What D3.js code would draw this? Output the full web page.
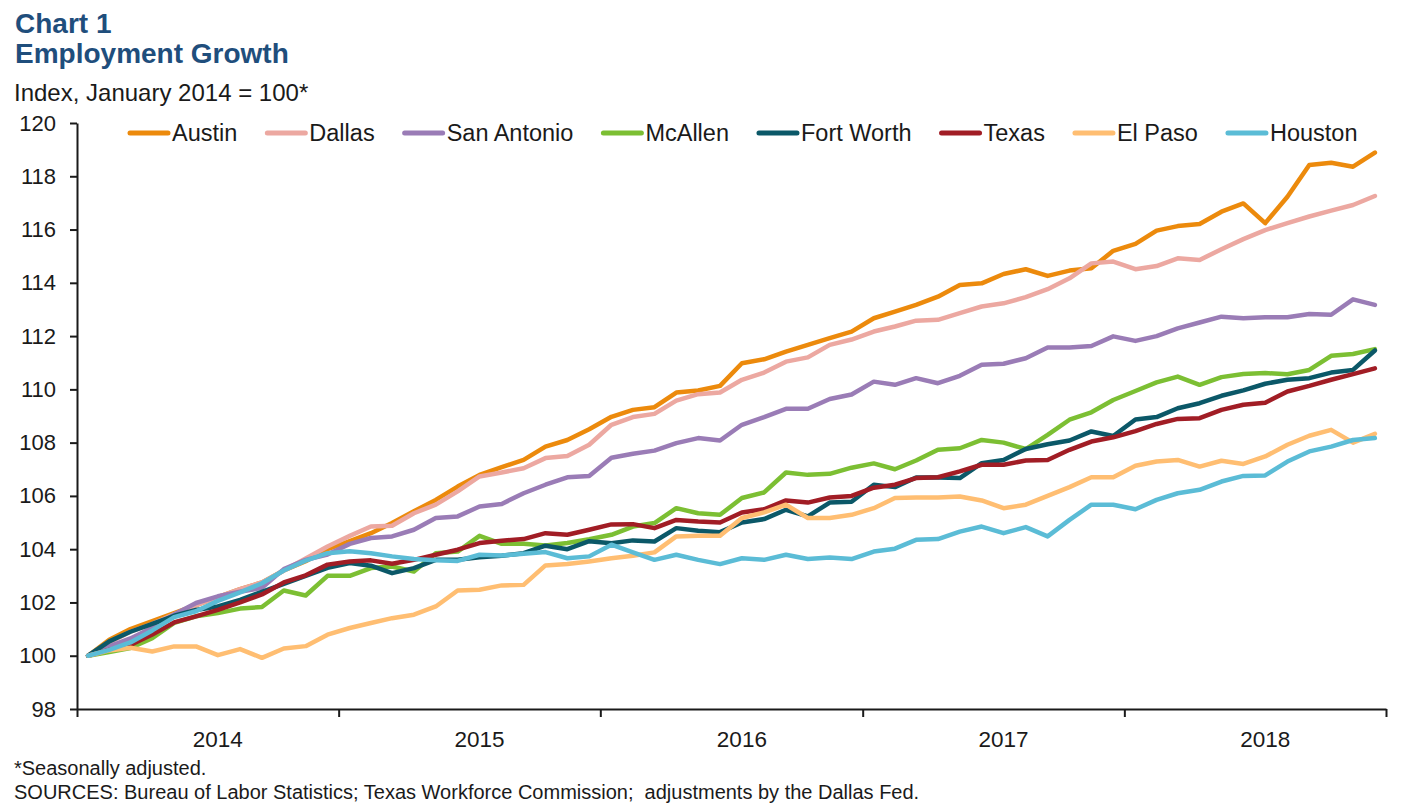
<!DOCTYPE html>
<html>
<head>
<meta charset="utf-8">
<script src="https://cdn.jsdelivr.net/npm/d3@7"></script>
<style>
  body { margin: 0; background: #fff; }
  svg { display: block; font-family: "Liberation Sans", Arial, sans-serif; }
</style>
</head>
<body>
<div id="chart"></div>
<script>
// monthly index values, Jan 2014 - Dec 2018 (Jan 2014 = 100)
const austin = [100, 100.6, 101.0, 101.3, 101.6, 101.9, 102.2, 102.5, 102.75, 103.2, 103.55, 104.0,
  104.3, 104.6, 104.98, 105.42, 105.85, 106.35, 106.79, 107.08, 107.35, 107.85, 108.1, 108.5,
  108.97, 109.23, 109.33, 109.88, 109.96, 110.13, 110.98, 111.13, 111.42, 111.67, 111.92, 112.17,
  112.67, 112.92, 113.17, 113.48, 113.92, 113.98, 114.33, 114.51, 114.26, 114.46, 114.55, 115.2,
  115.46, 115.96, 116.13, 116.21, 116.67, 116.98, 116.24, 117.23, 118.42, 118.51, 118.36, 118.89];
const dallas = [100, 100.5, 100.9, 101.2, 101.55, 101.9, 102.2, 102.5, 102.75, 103.2, 103.65, 104.1,
  104.5, 104.85, 104.88, 105.35, 105.67, 106.17, 106.73, 106.88, 107.04, 107.42, 107.5, 107.92,
  108.67, 108.96, 109.08, 109.58, 109.82, 109.88, 110.36, 110.63, 111.04, 111.2, 111.67, 111.87,
  112.17, 112.36, 112.58, 112.61, 112.86, 113.11, 113.23, 113.46, 113.76, 114.17, 114.73, 114.8,
  114.51, 114.63, 114.92, 114.86, 115.26, 115.64, 115.98, 116.24, 116.49, 116.71, 116.92, 117.26];
const sanAntonio = [100, 100.35, 100.65, 101.05, 101.55, 101.98, 102.23, 102.4, 102.55, 103.25, 103.6, 103.8,
  104.2, 104.42, 104.48, 104.73, 105.17, 105.23, 105.6, 105.7, 106.1, 106.42, 106.7, 106.75,
  107.43, 107.58, 107.7, 107.98, 108.17, 108.08, 108.67, 108.96, 109.27, 109.27, 109.64, 109.81,
  110.29, 110.17, 110.42, 110.23, 110.51, 110.92, 110.96, 111.17, 111.57, 111.57, 111.63, 111.99,
  111.82, 112.0, 112.29, 112.51, 112.73, 112.67, 112.71, 112.71, 112.83, 112.8, 113.38, 113.17];
const mcAllen = [100, 100.14, 100.29, 100.66, 101.23, 101.48, 101.6, 101.77, 101.83, 102.45, 102.26, 103.0,
  103.0, 103.29, 103.35, 103.16, 103.85, 103.91, 104.5, 104.2, 104.2, 104.14, 104.23, 104.37,
  104.54, 104.85, 104.98, 105.54, 105.35, 105.29, 105.92, 106.13, 106.88, 106.79, 106.83, 107.06,
  107.22, 107.0, 107.33, 107.73, 107.79, 108.1, 108.0, 107.76, 108.29, 108.86, 109.14, 109.6,
  109.94, 110.26, 110.48, 110.17, 110.46, 110.58, 110.61, 110.57, 110.73, 111.26, 111.33, 111.51];
const fortWorth = [100, 100.54, 100.9, 101.2, 101.5, 101.72, 101.85, 102.1, 102.4, 102.7, 103.0, 103.3,
  103.48, 103.38, 103.1, 103.29, 103.6, 103.6, 103.7, 103.75, 103.85, 104.13, 104.0, 104.3,
  104.22, 104.33, 104.29, 104.79, 104.69, 104.64, 105.0, 105.13, 105.48, 105.23, 105.75, 105.78,
  106.42, 106.33, 106.69, 106.69, 106.67, 107.23, 107.35, 107.76, 107.94, 108.08, 108.42, 108.25,
  108.87, 108.96, 109.29, 109.48, 109.76, 109.96, 110.21, 110.36, 110.42, 110.63, 110.73, 111.46];
const texas = [100, 100.22, 100.4, 100.8, 101.25, 101.48, 101.72, 102.0, 102.3, 102.75, 103.02, 103.42,
  103.54, 103.58, 103.45, 103.6, 103.79, 103.98, 104.23, 104.32, 104.38, 104.6, 104.54, 104.73,
  104.93, 104.94, 104.79, 105.1, 105.04, 105.0, 105.38, 105.5, 105.83, 105.75, 105.94, 106.0,
  106.31, 106.42, 106.67, 106.7, 106.92, 107.17, 107.17, 107.33, 107.35, 107.73, 108.04, 108.2,
  108.43, 108.7, 108.89, 108.92, 109.23, 109.42, 109.5, 109.92, 110.13, 110.36, 110.57, 110.79];
const elPaso = [100, 100.2, 100.3, 100.16, 100.35, 100.35, 100.02, 100.25, 99.92, 100.27, 100.36, 100.79,
  101.04, 101.23, 101.41, 101.54, 101.85, 102.45, 102.48, 102.64, 102.66, 103.39, 103.44, 103.54,
  103.66, 103.75, 103.88, 104.48, 104.5, 104.5, 105.17, 105.38, 105.67, 105.17, 105.17, 105.29,
  105.54, 105.92, 105.94, 105.94, 105.98, 105.83, 105.54, 105.67, 106.0, 106.33, 106.7, 106.7,
  107.13, 107.29, 107.35, 107.1, 107.32, 107.2, 107.48, 107.92, 108.26, 108.48, 108.0, 108.33];
const houston = [100, 100.22, 100.5, 100.95, 101.45, 101.67, 102.06, 102.38, 102.72, 103.2, 103.57, 103.85,
  103.92, 103.85, 103.73, 103.63, 103.58, 103.56, 103.79, 103.76, 103.83, 103.89, 103.66, 103.73,
  104.17, 103.88, 103.6, 103.79, 103.6, 103.44, 103.66, 103.6, 103.79, 103.63, 103.69, 103.63,
  103.91, 104.02, 104.35, 104.38, 104.66, 104.85, 104.6, 104.83, 104.48, 105.1, 105.67, 105.67,
  105.5, 105.85, 106.1, 106.23, 106.54, 106.75, 106.77, 107.29, 107.67, 107.85, 108.1, 108.17];

const seriesNames = ["Austin", "Dallas", "San Antonio", "McAllen", "Fort Worth", "Texas", "El Paso", "Houston"];
const seriesValues = [austin, dallas, sanAntonio, mcAllen, fortWorth, texas, elPaso, houston];
const seriesColors = ["#ec8a0c", "#eca8a1", "#9a7cb6", "#7cbf33", "#0b5868", "#a11d25", "#ffbe72", "#5bbcd6"];
const yTicks = [98, 100, 102, 104, 106, 108, 110, 112, 114, 116, 118, 120];
const years = [2014, 2015, 2016, 2017, 2018];

const width = 1423, height = 811;
const start = new Date(2014, 0, 1), end = new Date(2019, 0, 1);
const months = d3.timeMonth.range(start, end);

const svg = d3.select("#chart").append("svg")
    .attr("width", width)
    .attr("height", height);

const x = d3.scaleTime().domain([start, end]).range([77, 1386]);
const y = d3.scaleLinear().domain([98, 120]).range([709, 123]);

// point sits in the middle of its month
const midMonth = d => new Date((+d + +d3.timeMonth.offset(d, 1)) / 2);

// titles
svg.append("text").attr("x", 15).attr("y", 33)
    .attr("font-size", 28).attr("font-weight", "bold").attr("fill", "#1f4e7c")
    .text("Chart 1");
svg.append("text").attr("x", 15).attr("y", 63)
    .attr("font-size", 28).attr("font-weight", "bold").attr("fill", "#1f4e7c")
    .text("Employment Growth");
svg.append("text").attr("x", 14).attr("y", 101)
    .attr("font-size", 24).attr("fill", "#1a1a1a")
    .text("Index, January 2014 = 100*");

// y axis
const yAxis = svg.append("g")
    .attr("transform", "translate(77,0)")
    .call(d3.axisLeft(y).tickValues(yTicks).tickSize(7).tickSizeOuter(0).tickPadding(14));
yAxis.selectAll("text").attr("font-size", 22).attr("fill", "#1a1a1a").attr("font-family", null);

// x axis
const xAxis = svg.append("g")
    .attr("transform", "translate(0,709)")
    .call(d3.axisBottom(x).ticks(d3.timeYear.every(1)).tickSize(8).tickSizeOuter(0).tickFormat(""));
svg.append("g")
    .selectAll("text")
    .data(years)
    .join("text")
    .attr("x", d => x(midMonth(new Date(d, 6, 1))))
    .attr("y", 747)
    .attr("text-anchor", "middle")
    .attr("font-size", 22.5)
    .attr("fill", "#1a1a1a")
    .text(d => d);

svg.selectAll(".domain, .tick line").attr("stroke", "#1a1a1a").attr("stroke-width", 2);

// lines
const line = d3.line()
    .x((d, i) => x(midMonth(months[i])))
    .y(d => y(d));

svg.append("g")
    .attr("fill", "none")
    .attr("stroke-width", 4.5)
    .attr("stroke-linejoin", "round")
    .attr("stroke-linecap", "round")
    .selectAll("path")
    .data(seriesValues)
    .join("path")
    .attr("stroke", (d, i) => seriesColors[i])
    .attr("d", line);

// legend
const legend = svg.append("g").attr("font-size", 23.5).attr("fill", "#1a1a1a");
let lx = 128;
seriesNames.forEach((name, i) => {
    legend.append("line")
        .attr("x1", lx + 2).attr("x2", lx + 40)
        .attr("y1", 133).attr("y2", 133)
        .attr("stroke", seriesColors[i])
        .attr("stroke-width", 5)
        .attr("stroke-linecap", "round");
    const t = legend.append("text")
        .attr("x", lx + 44).attr("y", 141)
        .text(name);
    lx += 44 + t.node().getComputedTextLength() + 28;
});

// footnotes
svg.append("text").attr("x", 14).attr("y", 775)
    .attr("font-size", 20).attr("fill", "#1a1a1a")
    .text("*Seasonally adjusted.");
svg.append("text").attr("x", 14).attr("y", 799)
    .attr("font-size", 20).attr("fill", "#1a1a1a")
    .style("white-space", "pre")
    .text("SOURCES: Bureau of Labor Statistics; Texas Workforce Commission;  adjustments by the Dallas Fed.");
</script>
</body>
</html>
